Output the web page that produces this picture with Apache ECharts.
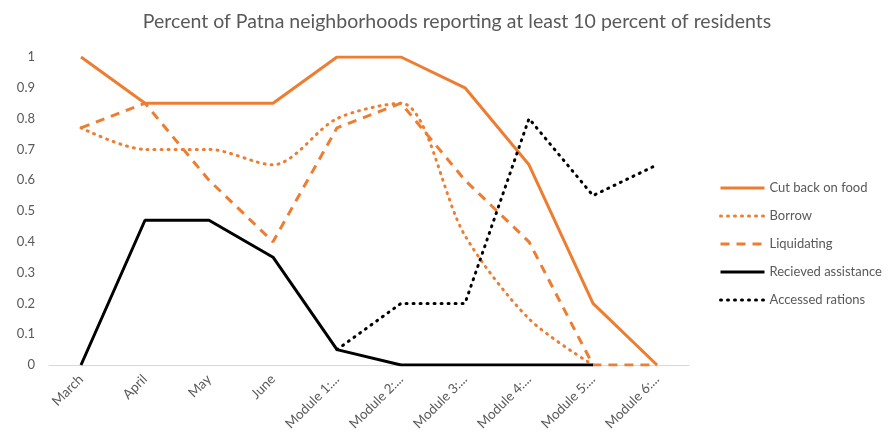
<!DOCTYPE html>
<html><head><meta charset="utf-8">
<script src="https://cdn.jsdelivr.net/npm/echarts@6/dist/echarts.min.js"></script>
<style>html,body{margin:0;padding:0;background:#fff}#c{width:889px;height:434px}</style>
</head><body><div id="c"></div>
<script>
const categories = ["March","April","May","June","Module 1:...","Module 2:...","Module 3:...","Module 4:...","Module 5:...","Module 6:..."];
const cutBack = [1, 0.85, 0.85, 0.85, 1, 1, 0.9, 0.65, 0.2, 0];
const borrow = [0.77, 0.70, 0.70, 0.65, 0.80, 0.85, 0.42, 0.15, 0, null];
const liquidating = [0.77, 0.85, 0.60, 0.40, 0.77, 0.85, 0.60, 0.40, 0, 0];
const received = [0, 0.47, 0.47, 0.35, 0.05, 0, 0, 0, 0, null];
const rations = [null, null, null, null, 0.05, 0.2, 0.2, 0.8, 0.55, 0.65];
const yTicks = [0, 0.1, 0.2, 0.3, 0.4, 0.5, 0.6, 0.7, 0.8, 0.9, 1];

const ORANGE = '#ED7D31';
const font = 'Lato, Open Sans, sans-serif';
function s(name, data, color, type, smooth) {
  return {
    name, type: 'line', data, smooth: smooth ? 0.3 : false, symbol: 'none',
    connectNulls: false,
    lineStyle: { color, width: 3, type, cap: Array.isArray(type) && type[0] < 2 ? 'round' : 'butt' },
    itemStyle: { color }
  };
}
const chart = echarts.init(document.getElementById('c'));
chart.setOption({
  animation: false,
  title: {
    text: 'Percent of Patna neighborhoods reporting at least 10 percent of residents',
    left: 452, top: 7, textAlign: 'center',
    textStyle: { fontFamily: font, fontSize: 19.5, fontWeight: 'normal', color: '#595959' }
  },
  grid: { left: 49, right: 200, top: 57, bottom: 69, containLabel: false, outerBoundsMode: 'none' },
  legend: {
    orient: 'vertical', left: 714, top: 176, itemWidth: 44, itemHeight: 14, itemGap: 14,
    itemStyle: { opacity: 0 },
    lineStyle: { width: 3 },
    textStyle: { fontFamily: font, fontSize: 13, lineHeight: 14, color: '#595959' },
    data: ['Cut back on food','Borrow','Liquidating','Recieved assistance','Accessed rations']
  },
  xAxis: {
    type: 'category', data: categories, boundaryGap: true,
    axisLine: { lineStyle: { color: '#d9d9d9', width: 1 } },
    axisTick: { show: false },
    axisLabel: { rotate: 45, interval: 0, fontFamily: font, fontSize: 13.5, color: '#595959', margin: 12 }
  },
  yAxis: {
    type: 'value', min: 0, max: 1, interval: 0.1,
    axisLine: { show: false }, axisTick: { show: false }, splitLine: { show: false },
    axisLabel: { fontFamily: font, fontSize: 13, color: '#595959', margin: 14,
      formatter: v => { const r = Math.round(v * 10) / 10; return yTicks.includes(r) ? String(r) : ''; } }
  },
  series: [
    s('Cut back on food', cutBack, ORANGE, 'solid', false),
    s('Borrow', borrow, ORANGE, [1, 6], true),
    s('Liquidating', liquidating, ORANGE, [9, 7], false),
    s('Recieved assistance', received, '#000', 'solid', false),
    s('Accessed rations', rations, '#000', [1, 6], false)
  ]
});
</script></body></html>
